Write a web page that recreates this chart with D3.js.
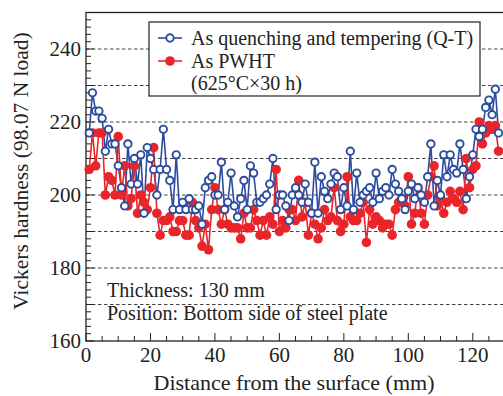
<!DOCTYPE html>
<html>
<head>
<meta charset="utf-8">
<script src="https://cdn.jsdelivr.net/npm/d3@7"></script>
<style>
  html, body { margin: 0; padding: 0; background: #fff; }
  svg { display: block; font-family: "Liberation Serif", "DejaVu Serif", serif; }
</style>
</head>
<body>
<div id="chart"></div>
<script>
// measuring positions, 1 mm apart
const distances = d3.range(1, 129);

// Vickers hardness, as quenched and tempered (Q-T)
const hardnessQT = [
  217, 228, 223, 223, 221, 212, 218, 214, 214, 208,
  202, 197, 214, 203, 210, 203, 211, 195, 213, 210,
  207, 200, 207, 218, 207, 204, 196, 211, 196, 198,
  196, 199, 196, 196, 197, 192, 202, 204, 205, 200,
  200, 209, 196, 198, 206, 197, 194, 199, 204, 196,
  208, 206, 198, 198, 199, 200, 203, 210, 196, 200,
  200, 197, 193, 200, 202, 200, 198, 203, 198, 195,
  209, 195, 205, 201, 199, 203, 206, 205, 196, 202,
  197, 212, 196, 206, 198, 200, 201, 202, 198, 206,
  199, 201, 202, 200, 207, 203, 201, 199, 196, 201,
  203, 199, 202, 200, 198, 205, 214, 197, 204, 200,
  211, 205, 211, 207, 206, 214, 207, 199, 205, 211,
  218, 216, 218, 224, 226, 222, 229, 217
];

// Vickers hardness, after PWHT (625°C×30 h)
const hardnessPWHT = [
  207, 217, 208, 217, 217, 200, 205, 204, 200, 216,
  200, 208, 197, 199, 208, 195, 200, 198, 196, 202,
  213, 195, 189, 193, 193, 194, 190, 190, 193, 193,
  189, 189, 198, 193, 191, 186, 192, 185, 196, 202,
  196, 192, 196, 192, 191, 191, 191, 188, 195, 191,
  191, 196, 193, 189, 193, 189, 194, 192, 207, 190,
  193, 191, 196, 196, 193, 204, 194, 198, 189, 195,
  192, 188, 191, 196, 193, 194, 202, 193, 190, 192,
  205, 194, 193, 193, 195, 198, 187, 196, 192, 194,
  193, 191, 192, 192, 189, 196, 198, 199, 197, 205,
  192, 195, 202, 195, 192, 200, 205, 208, 197, 199,
  195, 198, 201, 199, 198, 201, 196, 210, 202, 207,
  208, 220, 214, 217, 219, 218, 219, 212
];

const xTicks = [0, 20, 40, 60, 80, 100, 120];
const yTicks = [160, 180, 200, 220, 240];
const gridValues = [170, 180, 190, 200, 210, 220, 230, 240];

const BLUE = '#2b4c9f';
const RED = '#e8252b';

const width = 503, height = 396;
const margin = { top: 12.5, left: 86 };
const plotW = 419, plotH = 328.5;

const svg = d3.select('#chart').append('svg')
  .attr('width', width)
  .attr('height', height);

const x = d3.scaleLinear().domain([0, 130]).range([margin.left, margin.left + plotW]);
const y = d3.scaleLinear().domain([160, 250]).range([margin.top + plotH, margin.top]);

// dashed guides
svg.append('g')
  .selectAll('line')
  .data(gridValues)
  .join('line')
  .attr('x1', x(0)).attr('x2', x(130))
  .attr('y1', d => y(d)).attr('y2', d => y(d))
  .attr('stroke', '#444')
  .attr('stroke-width', 1)
  .attr('stroke-dasharray', '3.5,2.5');

// frame (right side falls off the canvas)
svg.append('rect')
  .attr('x', x(0)).attr('y', y(250))
  .attr('width', x(130) - x(0)).attr('height', y(160) - y(250))
  .attr('fill', 'none')
  .attr('stroke', '#222')
  .attr('stroke-width', 1.3);

// inward ticks
const yMinor = d3.range(160, 251, 2);
svg.append('g')
  .selectAll('line')
  .data(yMinor)
  .join('line')
  .attr('x1', x(0))
  .attr('x2', d => x(0) + (d % 10 === 0 ? 8 : 5))
  .attr('y1', d => y(d)).attr('y2', d => y(d))
  .attr('stroke', '#222');

const xMinor = d3.range(0, 131, 5);
svg.append('g')
  .selectAll('line')
  .data(xMinor)
  .join('line')
  .attr('x1', d => x(d)).attr('x2', d => x(d))
  .attr('y1', y(160))
  .attr('y2', d => y(160) - (d % 20 === 0 ? 8 : 5))
  .attr('stroke', '#222');

// tick labels
svg.append('g')
  .selectAll('text')
  .data(yTicks)
  .join('text')
  .attr('x', x(0) - 5)
  .attr('y', d => y(d) + 7)
  .attr('text-anchor', 'end')
  .attr('font-size', 21)
  .attr('fill', '#222')
  .text(d => d);

svg.append('g')
  .selectAll('text')
  .data(xTicks)
  .join('text')
  .attr('x', d => x(d))
  .attr('y', y(160) + 21)
  .attr('text-anchor', 'middle')
  .attr('font-size', 21)
  .attr('fill', '#222')
  .text(d => d);

// axis titles
svg.append('text')
  .attr('x', 294).attr('y', 390)
  .attr('text-anchor', 'middle')
  .attr('font-size', 22)
  .attr('fill', '#222')
  .text('Distance from the surface (mm)');

svg.append('text')
  .attr('transform', 'translate(28,171) rotate(-90)')
  .attr('text-anchor', 'middle')
  .attr('font-size', 21.5)
  .attr('fill', '#222')
  .text('Vickers hardness (98.07 N load)');

// series
const lineGen = d3.line()
  .x((d, i) => x(distances[i]))
  .y(d => y(d));

const plot = svg.append('g');

plot.append('path')
  .datum(hardnessQT)
  .attr('d', lineGen)
  .attr('fill', 'none')
  .attr('stroke', BLUE)
  .attr('stroke-width', 1.6);

plot.append('path')
  .datum(hardnessPWHT)
  .attr('d', lineGen)
  .attr('fill', 'none')
  .attr('stroke', RED)
  .attr('stroke-width', 1.6);

plot.append('g')
  .selectAll('circle')
  .data(hardnessPWHT)
  .join('circle')
  .attr('cx', (d, i) => x(distances[i]))
  .attr('cy', d => y(d))
  .attr('r', 4.8)
  .attr('fill', RED);

plot.append('g')
  .selectAll('circle')
  .data(hardnessQT)
  .join('circle')
  .attr('cx', (d, i) => x(distances[i]))
  .attr('cy', d => y(d))
  .attr('r', 3.7)
  .attr('fill', '#fff')
  .attr('stroke', BLUE)
  .attr('stroke-width', 1.9);

// legend
const legend = svg.append('g');
legend.append('rect')
  .attr('x', 149).attr('y', 22)
  .attr('width', 331).attr('height', 74)
  .attr('fill', '#fff')
  .attr('stroke', '#222')
  .attr('stroke-width', 1.2);

legend.append('line')
  .attr('x1', 158).attr('x2', 182).attr('y1', 38).attr('y2', 38)
  .attr('stroke', BLUE).attr('stroke-width', 1.6);
legend.append('circle')
  .attr('cx', 170).attr('cy', 38).attr('r', 3.7)
  .attr('fill', '#fff').attr('stroke', BLUE).attr('stroke-width', 1.9);
legend.append('text')
  .attr('x', 191).attr('y', 45)
  .attr('font-size', 20).attr('fill', '#222')
  .text('As quenching and tempering (Q-T)');

legend.append('line')
  .attr('x1', 158).attr('x2', 182).attr('y1', 61).attr('y2', 61)
  .attr('stroke', RED).attr('stroke-width', 1.6);
legend.append('circle')
  .attr('cx', 170).attr('cy', 61).attr('r', 4.8)
  .attr('fill', RED);
legend.append('text')
  .attr('x', 191).attr('y', 68)
  .attr('font-size', 20).attr('fill', '#222')
  .text('As PWHT');
legend.append('text')
  .attr('x', 191).attr('y', 90)
  .attr('font-size', 20).attr('fill', '#222')
  .text('(625°C×30 h)');

// notes
svg.append('text')
  .attr('x', 107).attr('y', 297)
  .attr('font-size', 20).attr('fill', '#222')
  .text('Thickness: 130 mm');
svg.append('text')
  .attr('x', 107).attr('y', 320)
  .attr('font-size', 20).attr('fill', '#222')
  .text('Position: Bottom side of steel plate');
</script>
</body>
</html>
